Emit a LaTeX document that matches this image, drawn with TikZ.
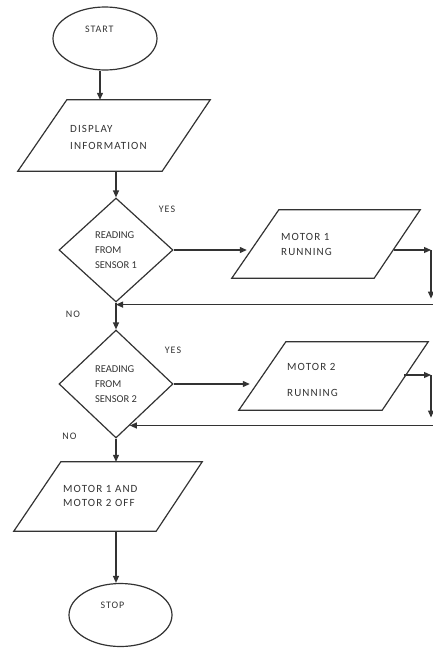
\documentclass[tikz,border=0pt]{standalone}
\usepackage{fontspec}
\setmainfont{Carlito}
\newfontfamily\spaced[LetterSpace=10]{Carlito}
\usetikzlibrary{shapes.geometric,arrows.meta,calc}
\begin{document}
\begin{tikzpicture}[x=1pt,y=-1pt,
  ln/.style={draw=black!80, line width=1.2pt, line join=miter},
  arr/.style={draw=black!80, line width=1.2pt, -{Triangle[length=7pt,width=6pt]}},
  term/.style={ellipse, ln, inner sep=0pt, text width=40pt, align=left, text=black!80, font=\fontsize{10}{12}\selectfont\spaced},
  dec/.style={diamond, ln, inner sep=0pt, align=left, text=black!80, font=\fontsize{10.5}{15}\selectfont},
  iobox/.style={rectangle, inner sep=0pt, draw=none},
  lbl/.style={inner sep=0pt, align=left, anchor=north west, text=black!80},
  tag/.style={inner sep=0pt, text=black!80, font=\fontsize{10}{12}\selectfont\spaced},
]
\useasboundingbox (0,0) rectangle (433,648);

% terminals
\node[term, minimum width=104pt, minimum height=63pt, text depth=18.4pt] (start) at (105,38.5) {START};
\node[term, minimum width=103pt, minimum height=63pt, text depth=20.4pt] (stop) at (120.5,615) {STOP};

% input/output boxes (bounding boxes of the parallelograms)
\node[iobox, minimum width=192pt, minimum height=71pt] (disp) at (114,135.5) {};
\node[iobox, minimum width=188pt, minimum height=68pt] (m1) at (326,244) {};
\node[iobox, minimum width=189pt, minimum height=68pt] (m2) at (333.5,376) {};
\node[iobox, minimum width=188pt, minimum height=69pt] (mo) at (108,496.5) {};

\draw[ln] ([xshift=49pt]disp.north west) -- (disp.north east) -- ([xshift=-48pt]disp.south east) -- (disp.south west) -- cycle;
\draw[ln] ([xshift=47pt]m1.north west) -- (m1.north east) -- ([xshift=-46pt]m1.south east) -- (m1.south west) -- cycle;
\draw[ln] ([xshift=47pt]m2.north west) -- (m2.north east) -- ([xshift=-46pt]m2.south east) -- (m2.south west) -- cycle;
\draw[ln] ([xshift=47pt]mo.north west) -- (mo.north east) -- ([xshift=-46pt]mo.south east) -- (mo.south west) -- cycle;

\node[lbl, font=\fontsize{11}{17}\selectfont\spaced] (dispT) at (70,125) {DISPLAY\\INFORMATION};
\node[lbl, font=\fontsize{11}{15}\selectfont\spaced] (m1T) at (281,233) {MOTOR 1\\RUNNING};
\node[lbl, font=\fontsize{11}{26}\selectfont\spaced] (m2T) at (287,363) {MOTOR 2\\RUNNING};
\node[lbl, font=\fontsize{11}{14}\selectfont\spaced] (moT) at (63,485) {MOTOR 1 AND\\MOTOR 2 OFF};

% decisions
\node[dec, minimum width=114pt, minimum height=104pt] (d1) at (116,250) {READING\\FROM\\SENSOR 1};
\node[dec, minimum width=114pt, minimum height=108pt] (d2) at (116,384) {READING\\FROM\\SENSOR 2};

% labels
\node[tag] (yes1) at (167,209.5) {YES};
\node[tag] (no1) at (73,314) {NO};
\node[tag] (yes2) at (173,350.5) {YES};
\node[tag] (no2) at (69.5,436) {NO};

% helper coordinates
\coordinate (rx) at (431,0);
\coordinate (edgeR) at (434,0);
\coordinate (j1) at ($(d1.south)+(0,2)$);
\coordinate (d2in) at ($(d2.south)!0.24!(d2.east)$);

% connectors
\draw[arr] ([xshift=-5pt]start.south) -- ([xshift=-14pt]disp.north);
\draw[arr] (d1.north |- disp.south) -- (d1.north);
\draw[arr] (d1.east) -- ($(d1.east -| m1.west)+(15,0)$);
\draw[arr] ($(d1.east -| m1.east)+(-26,0)$) -- (d1.east -| rx);
\draw[arr] (d1.east -| rx) -- ($(j1 -| rx)+(0,-6)$);
\draw[arr] (j1 -| edgeR) -- (j1);
\draw[arr] (d1.south) -- (d2.north);
\draw[arr] (d2.east) -- ($(d2.east -| m2.west)+(11,0)$);
\draw[arr] ($(m2.east)+(-24,-1)$) -- ($(m2.east -| rx)+(0,-1)$);
\draw[arr] ($(m2.east -| rx)+(0,-1)$) -- ($(d2in -| rx)+(0,-8)$);
\draw[arr] (d2in -| edgeR) -- (d2in);
\draw[arr] (d2.south) -- (d2.south |- mo.north);
\draw[arr] (d2.south |- mo.south) -- (d2.south |- stop.north);
\end{tikzpicture}
\end{document}
